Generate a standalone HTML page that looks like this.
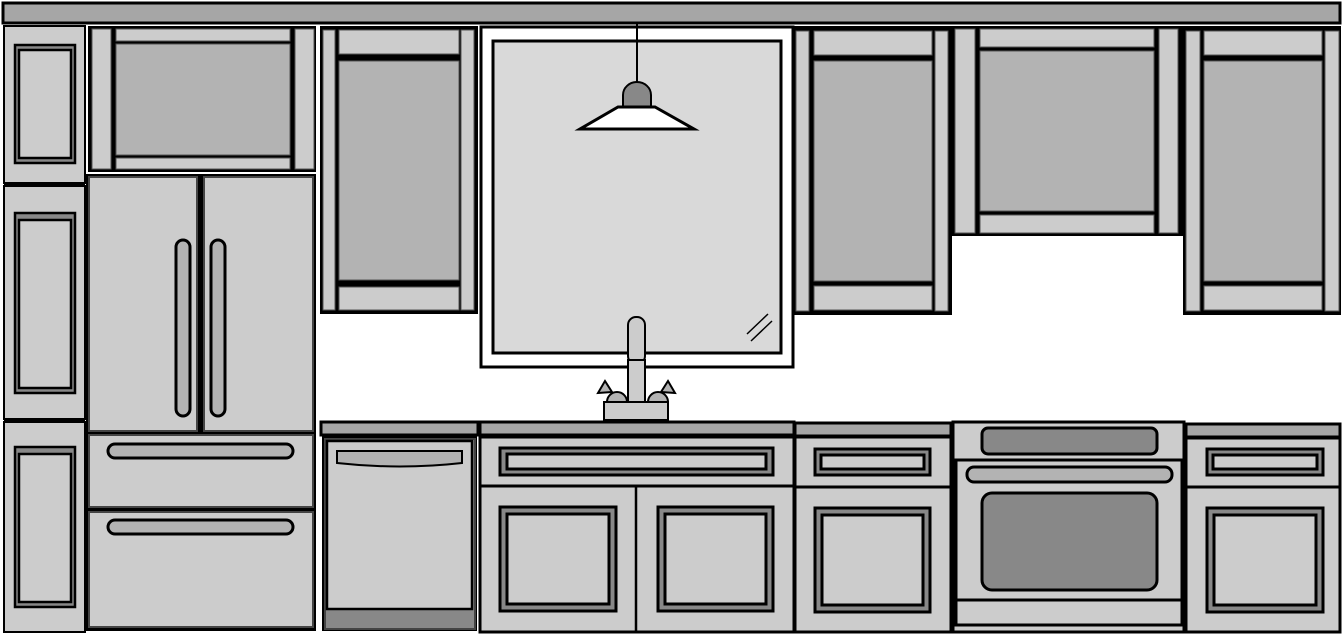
<!DOCTYPE html>
<html><head><meta charset="utf-8"><style>html,body{margin:0;padding:0;background:#fff}svg{display:block}</style></head>
<body>
<svg width="1344" height="634" viewBox="0 0 1344 634" xmlns="http://www.w3.org/2000/svg" stroke="#000" stroke-width="2">
<rect x="3" y="3" width="1337" height="20" fill="#a6a6a6" stroke-width="3"/>

<g fill="#cccccc">
<rect x="4" y="26" width="81" height="157"/>
<rect x="4" y="186" width="81" height="233" />
<rect x="4" y="422" width="81" height="210"/>
</g>
<line x1="4" y1="184.5" x2="85" y2="184.5" stroke-width="3"/>
<line x1="4" y1="420.5" x2="85" y2="420.5" stroke-width="3"/>
<g stroke-width="2.5">
<rect x="15" y="45" width="60" height="118" fill="#888"/>
<rect x="19" y="50" width="52" height="108" fill="#ccc"/>
<rect x="15" y="213" width="60" height="180" fill="#888"/>
<rect x="19" y="220" width="52" height="168" fill="#ccc"/>
<rect x="15" y="447" width="60" height="160" fill="#888"/>
<rect x="19" y="454" width="52" height="148" fill="#ccc"/>
</g>

<rect x="88" y="26" width="228" height="146" fill="#000" stroke="none"/>
<rect x="92" y="29" width="19" height="140" fill="#ccc" stroke="#555" stroke-width="1"/>
<rect x="295" y="29" width="19" height="140" fill="#ccc" stroke="#555" stroke-width="1"/>
<rect x="116" y="29" width="174" height="12" fill="#ccc" stroke="#555" stroke-width="1"/>
<rect x="116" y="44" width="174" height="111" fill="#b3b3b3" stroke="#555" stroke-width="1"/>
<rect x="116" y="158" width="174" height="11" fill="#ccc" stroke="#555" stroke-width="1"/>

<rect x="86" y="174" width="230" height="457" fill="#000" stroke="none"/>
<rect x="89" y="177" width="108" height="254" fill="#ccc" stroke="#444"/>
<rect x="204" y="177" width="109" height="254" fill="#ccc" stroke="#444"/>
<rect x="176" y="240" width="14" height="176" rx="7" fill="#b3b3b3" stroke-width="3"/>
<rect x="211" y="240" width="14" height="176" rx="7" fill="#b3b3b3" stroke-width="3"/>
<rect x="89" y="435" width="224" height="72" fill="#ccc" stroke="#444"/>
<rect x="108" y="444" width="185" height="14" rx="7" fill="#b3b3b3" stroke-width="3"/>
<rect x="89" y="512" width="224" height="115" fill="#ccc" stroke="#444"/>
<rect x="108" y="520" width="185" height="14" rx="7" fill="#b3b3b3" stroke-width="3"/>

<rect x="320" y="26" width="158" height="288" fill="#000" stroke="none"/>
<rect x="323" y="30" width="12" height="280" fill="#ccc" stroke="#555" stroke-width="1"/>
<rect x="461" y="30" width="13" height="280" fill="#ccc" stroke="#555" stroke-width="1"/>
<rect x="339" y="30" width="120" height="24" fill="#ccc" stroke="#555" stroke-width="1"/>
<rect x="339" y="61" width="120" height="219" fill="#b3b3b3" stroke="#555" stroke-width="1"/>
<rect x="339" y="287" width="120" height="23" fill="#ccc" stroke="#555" stroke-width="1"/>

<rect x="481" y="27" width="312" height="340" fill="#fff" stroke-width="3"/>
<rect x="493" y="41" width="288" height="312" fill="#d9d9d9" stroke-width="3"/>
<line x1="637" y1="24" x2="637" y2="84" stroke-width="2"/>
<path d="M623 107 L623 95 A14 13 0 0 1 651 95 L651 107 Z" fill="#888" stroke-width="2"/>
<path d="M618 107 L655 107 L694 129 L580 129 Z" fill="#fff" stroke-width="3"/>
<line x1="747" y1="334" x2="768" y2="314" stroke-width="1.5"/>
<line x1="751" y1="341" x2="772" y2="321" stroke-width="1.5"/>

<rect x="628" y="317" width="17" height="47" rx="8" fill="#ccc"/>
<rect x="628" y="360" width="17" height="43" fill="#ccc"/>
<path d="M607 402 A10 10 0 0 1 627 402 Z" fill="#b3b3b3"/>
<path d="M648 402 A10 10 0 0 1 668 402 Z" fill="#b3b3b3"/>
<path d="M598 393 L605 381 L612 392 Z" fill="#b3b3b3"/>
<path d="M661 392 L668 381 L675 393 Z" fill="#b3b3b3"/>
<rect x="604" y="402" width="64" height="18" fill="#ccc"/>

<rect x="793" y="26" width="159" height="289" fill="#000" stroke="none"/>
<rect x="796" y="31" width="13" height="280" fill="#ccc" stroke="#555" stroke-width="1"/>
<rect x="935" y="31" width="13" height="280" fill="#ccc" stroke="#555" stroke-width="1"/>
<rect x="814" y="31" width="118" height="24" fill="#ccc" stroke="#555" stroke-width="1"/>
<rect x="814" y="61" width="118" height="220" fill="#b3b3b3" stroke="#555" stroke-width="1"/>
<rect x="814" y="286" width="118" height="24" fill="#ccc" stroke="#555" stroke-width="1"/>

<rect x="952" y="26" width="231" height="210" fill="#000" stroke="none"/>
<rect x="955" y="29" width="20" height="204" fill="#ccc" stroke="#555" stroke-width="1"/>
<rect x="1159" y="29" width="19" height="204" fill="#ccc" stroke="#555" stroke-width="1"/>
<rect x="980" y="29" width="174" height="18" fill="#ccc" stroke="#555" stroke-width="1"/>
<rect x="980" y="51" width="174" height="160" fill="#b3b3b3" stroke="#555" stroke-width="1"/>
<rect x="980" y="215" width="174" height="18" fill="#ccc" stroke="#555" stroke-width="1"/>

<rect x="1183" y="26" width="158" height="289" fill="#000" stroke="none"/>
<rect x="1186" y="31" width="14" height="280" fill="#ccc" stroke="#555" stroke-width="1"/>
<rect x="1325" y="31" width="14" height="280" fill="#ccc" stroke="#555" stroke-width="1"/>
<rect x="1204" y="31" width="118" height="24" fill="#ccc" stroke="#555" stroke-width="1"/>
<rect x="1204" y="61" width="118" height="220" fill="#b3b3b3" stroke="#555" stroke-width="1"/>
<rect x="1204" y="286" width="118" height="24" fill="#ccc" stroke="#555" stroke-width="1"/>

<rect x="321" y="422" width="157" height="13" fill="#a6a6a6" stroke-width="3"/>
<rect x="322" y="436" width="155" height="195" fill="#000" stroke="none"/>
<rect x="325" y="439" width="150" height="190" fill="#888" stroke="#444"/>
<rect x="327" y="441" width="145" height="168" fill="#ccc" stroke-width="2.5"/>
<path d="M337 451 L462 451 L462 463 Q400 470 337 463 Z" fill="#b3b3b3"/>

<rect x="480" y="422" width="314" height="13" fill="#a6a6a6" stroke-width="3"/>
<rect x="480" y="437" width="314" height="195" fill="#ccc" stroke-width="3"/>
<line x1="480" y1="486" x2="794" y2="486" stroke-width="3"/>
<line x1="636" y1="487" x2="636" y2="632" stroke-width="2.5"/>
<g stroke-width="3">
<rect x="500" y="448" width="273" height="27" fill="#888"/>
<rect x="507" y="454" width="259" height="15" fill="#ccc"/>
<rect x="500" y="507" width="116" height="104" fill="#888"/>
<rect x="507" y="514" width="102" height="90" fill="#ccc"/>
<rect x="658" y="507" width="115" height="104" fill="#888"/>
<rect x="665" y="514" width="101" height="90" fill="#ccc"/>
</g>

<rect x="795" y="423" width="156" height="13" fill="#a6a6a6" stroke-width="3"/>
<rect x="795" y="437" width="156" height="195" fill="#ccc" stroke-width="3"/>
<line x1="795" y1="487" x2="951" y2="487" stroke-width="3"/>
<g stroke-width="3">
<rect x="815" y="449" width="115" height="26" fill="#888"/>
<rect x="821" y="455" width="103" height="14" fill="#ccc"/>
<rect x="815" y="508" width="115" height="104" fill="#888"/>
<rect x="822" y="515" width="101" height="90" fill="#ccc"/>
</g>

<rect x="953" y="422" width="231" height="210" fill="#ccc" stroke-width="3"/>
<rect x="982" y="428" width="175" height="26" rx="6" fill="#888" stroke-width="3"/>
<rect x="956" y="460" width="226" height="165" fill="#ccc" stroke-width="3"/>
<rect x="967" y="467" width="205" height="15" rx="7" fill="#b3b3b3" stroke-width="3"/>
<rect x="982" y="493" width="175" height="97" rx="10" fill="#888" stroke-width="3"/>
<line x1="956" y1="600" x2="1182" y2="600" stroke-width="3"/>

<rect x="1186" y="424" width="154" height="13" fill="#a6a6a6" stroke-width="3"/>
<rect x="1186" y="438" width="154" height="194" fill="#ccc" stroke-width="3"/>
<line x1="1186" y1="487" x2="1340" y2="487" stroke-width="3"/>
<g stroke-width="3">
<rect x="1207" y="449" width="116" height="26" fill="#888"/>
<rect x="1213" y="455" width="104" height="14" fill="#ccc"/>
<rect x="1207" y="508" width="116" height="104" fill="#888"/>
<rect x="1214" y="515" width="102" height="90" fill="#ccc"/>
</g>
</svg>
</body></html>
